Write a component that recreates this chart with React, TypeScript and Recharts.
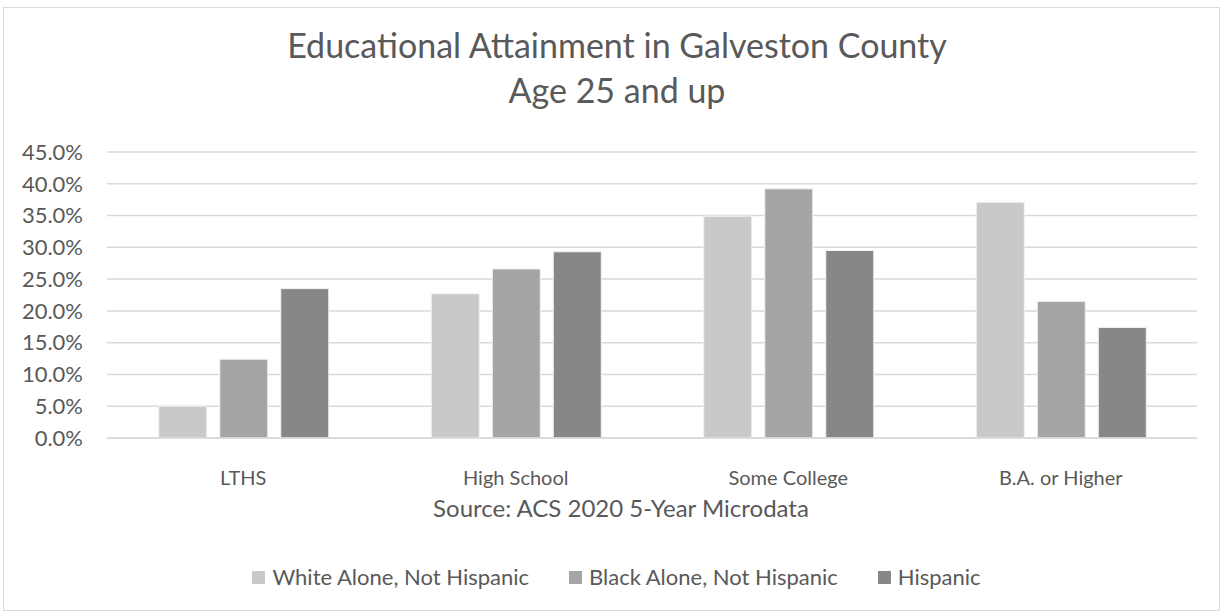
import React from 'react';
import { BarChart, Bar, XAxis, YAxis, CartesianGrid, Legend } from 'recharts';

const categories = ['LTHS', 'High School', 'Some College', 'B.A. or Higher'];
const whiteAlone = [5.0, 22.7, 34.9, 37.1];
const blackAlone = [12.4, 26.6, 39.2, 21.5];
const hispanic = [23.5, 29.3, 29.5, 17.4];
const yTicks = [0, 5, 10, 15, 20, 25, 30, 35, 40, 45];

const seriesNames = ['White Alone, Not Hispanic', 'Black Alone, Not Hispanic', 'Hispanic'];
const seriesColors = ['#c9c9c9', '#a5a5a5', '#878787'];

const data = categories.map((name, i) => ({
  name,
  white: whiteAlone[i],
  black: blackAlone[i],
  hispanic: hispanic[i],
}));

const FONT = 'Lato, "Noto Sans", sans-serif';
const TEXT = '#595959';

function LegendContent() {
  return (
    <div style={{ display: 'flex', justifyContent: 'center', fontFamily: FONT, fontSize: 22, lineHeight: '26px', color: TEXT }}>
      {seriesNames.map((n, i) => (
        <div key={n} style={{ display: 'flex', alignItems: 'center', marginRight: i < 2 ? 40 : 0 }}>
          <span style={{ width: 13, height: 13, background: seriesColors[i], marginRight: 7, display: 'inline-block' }} />
          <span>{n}</span>
        </div>
      ))}
    </div>
  );
}

export default function App() {
  return (
    <div style={{ position: 'absolute', left: 0, top: 0, width: 1221, height: 616, background: '#fff' }}>
      <div
        style={{
          position: 'absolute',
          left: 3,
          top: 7,
          width: 1215,
          height: 602,
          border: '1px solid #d9d9d9',
        }}
      />
      <div
        style={{
          position: 'absolute',
          left: 0,
          width: 1234,
          top: 22,
          textAlign: 'center',
          fontFamily: FONT,
          fontSize: 34,
          lineHeight: '45px',
          color: TEXT,
        }}
      >
        Educational Attainment in Galveston County
        <br />
        Age 25 and up
      </div>
      <BarChart
        width={1221}
        height={616}
        data={data}
        margin={{ top: 152, right: 24, bottom: 78, left: 0 }}
        barCategoryGap="19%"
        barGap={13}
        style={{ position: 'absolute', left: 0, top: 0 }}
      >
        <CartesianGrid vertical={false} stroke="#d9d9d9" strokeWidth={1.5} />
        <XAxis
          dataKey="name"
          axisLine={{ stroke: '#d9d9d9', strokeWidth: 1.5 }}
          tickLine={false}
          tickMargin={27}
          tick={{ fontSize: 20, fill: TEXT, fontFamily: FONT }}
          height={100}
          label={{
            value: 'Source: ACS 2020 5-Year Microdata',
            position: 'insideTop',
            offset: 62,
            dx: -31,
            fontSize: 24,
            fill: TEXT,
            fontFamily: FONT,
          }}
        />
        <YAxis
          width={107}
          domain={[0, 45]}
          ticks={yTicks}
          interval={0}
          axisLine={false}
          tickLine={false}
          tickMargin={18}
          tickFormatter={(v) => `${Number(v).toFixed(1)}%`}
          tick={{ fontSize: 22, fill: TEXT, fontFamily: FONT }}
        />
        <Legend
          layout="horizontal"
          verticalAlign="middle"
          align="center"
          content={<LegendContent />}
          wrapperStyle={{ top: 564, left: 6, width: 1221 }}
        />
        <Bar dataKey="white" name={seriesNames[0]} fill={seriesColors[0]} stroke="#f2f2f2" strokeWidth={1} isAnimationActive={false} />
        <Bar dataKey="black" name={seriesNames[1]} fill={seriesColors[1]} stroke="#f2f2f2" strokeWidth={1} isAnimationActive={false} />
        <Bar dataKey="hispanic" name={seriesNames[2]} fill={seriesColors[2]} stroke="#f2f2f2" strokeWidth={1} isAnimationActive={false} />
      </BarChart>
    </div>
  );
}
